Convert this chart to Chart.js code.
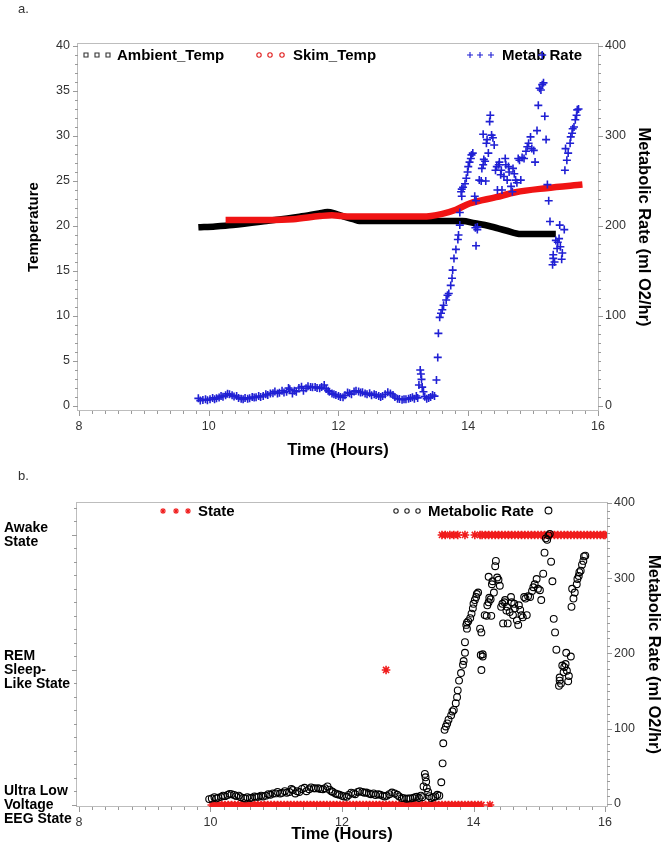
<!DOCTYPE html>
<html><head><meta charset="utf-8">
<script src="https://cdn.jsdelivr.net/npm/chart.js@4.4.1/dist/chart.umd.min.js"></script>
<style>
html,body{margin:0;padding:0;background:#fff;}
#wrap{position:relative;width:672px;height:862px;overflow:hidden;background:#fff;}
canvas{position:absolute;left:0;}
.lab{position:absolute;font:13px "Liberation Sans",Arial,sans-serif;color:#333;}
</style></head><body>
<div id="wrap">
<canvas id="ca" width="672" height="470" style="top:0;width:672px;height:470px"></canvas>
<canvas id="cb" width="672" height="392" style="top:470px;width:672px;height:392px"></canvas>
<div class="lab" style="left:18px;top:1px">a.</div>
<div class="lab" style="left:18px;top:468px">b.</div>
</div>
<script>
// ---------- DATA ----------
const metabTime = [
 9.84, 9.87, 9.91, 9.95, 9.98, 10.02, 10.06, 10.09, 10.12, 10.16,
 10.19, 10.22, 10.26, 10.29, 10.32, 10.36, 10.39, 10.43, 10.46, 10.5,
 10.53, 10.56, 10.6, 10.63, 10.67, 10.7, 10.73, 10.77, 10.8, 10.84,
 10.88, 10.91, 10.95, 10.99, 11.02, 11.06, 11.09, 11.13, 11.16, 11.2,
 11.23, 11.25, 11.29, 11.32, 11.35, 11.39, 11.43, 11.46, 11.5, 11.53,
 11.57, 11.6, 11.64, 11.67, 11.71, 11.74, 11.78, 11.81, 11.84, 11.86,
 11.9, 11.93, 11.96, 12.0, 12.03, 12.07, 12.1, 12.14, 12.17, 12.2,
 12.24, 12.27, 12.31, 12.34, 12.37, 12.41, 12.44, 12.48, 12.51, 12.55,
 12.58, 12.62, 12.65, 12.68, 12.72, 12.76, 12.8, 12.84, 12.87, 12.91,
 12.94, 12.98, 13.01, 13.04, 13.08, 13.11, 13.14, 13.17, 13.2, 13.22,
 13.24, 13.26, 13.27, 13.28, 13.29, 13.31, 13.33, 13.36, 13.39, 13.42,
 13.45, 13.48, 13.51, 13.53, 13.54, 13.56, 13.58, 13.6, 13.62, 13.66,
 13.68, 13.7, 13.73, 13.75, 13.76, 13.78, 13.81, 13.84, 13.85, 13.87,
 13.87, 13.89, 13.9, 13.9, 13.92, 13.95, 13.97, 13.99, 14.0, 14.02,
 14.04, 14.05, 14.07, 14.1, 14.12, 14.11, 14.12, 14.14, 14.14, 14.17,
 14.2, 14.21, 14.23, 14.23, 14.24, 14.26, 14.27, 14.28, 14.29, 14.31,
 14.33, 14.34, 14.36, 14.38, 14.4, 14.42, 14.44, 14.45, 14.47, 14.48,
 14.5, 14.51, 14.52, 14.55, 14.57, 14.58, 14.6, 14.62, 14.63, 14.66,
 14.68, 14.69, 14.71, 14.73, 14.75, 14.77, 14.79, 14.81, 14.83, 14.86,
 14.89, 14.91, 14.93, 14.96, 14.98, 15.01, 15.03, 15.06, 15.08, 15.1,
 15.12, 15.14, 15.14, 15.16, 15.18, 15.2, 15.22, 15.24, 15.26, 15.3,
 15.31, 15.31, 15.33, 15.35, 15.37, 15.38, 15.4, 15.41, 15.42, 15.44,
 15.45, 15.48, 15.49, 15.5, 15.52, 15.54, 15.57, 15.58, 15.6, 15.61,
 15.63, 15.65, 15.67, 15.68, 15.7
];
const metabRate = [
 8.5, 6, 6.7, 7.5, 6.5, 7.4, 9, 7.5, 8.5, 9.5,
 11, 10.4, 12, 13.5, 13, 12, 10.5, 11.1, 9, 8,
 7.4, 9, 8, 8.5, 10, 9.5, 9.6, 11, 10, 11.1,
 13, 12.2, 14, 14.1, 16, 14, 14.8, 17, 15, 15.9,
 20, 18.5, 14, 17, 15.9, 20, 21.5, 17, 19.6, 22,
 21, 20.7, 21, 20, 19.6, 21, 23.3, 19, 17, 15.9,
 14, 13, 12.2, 11, 10, 9.6, 12, 15, 14.1, 13,
 16, 17, 16, 15, 15.2, 14, 13, 14.1, 12, 13,
 12.2, 11, 10, 11.1, 13, 15.2, 14, 12.2, 10, 8,
 7.8, 7, 7.5, 7.4, 8, 9, 9.6, 8, 11.1, 9,
 23.3, 40, 35.5, 29.6, 21, 15.9, 10.4, 8, 9, 10,
 12.2, 11, 28.9, 54, 80.7, 98.5, 103, 107, 112, 117.8,
 123, 125, 134, 142, 151, 164, 174, 185, 190, 201,
 215, 238, 233, 241, 243, 247, 253, 260, 266, 271,
 275, 279, 281, 233, 228, 198, 178, 196, 199, 251,
 250, 264, 268, 302, 274, 272, 250, 292, 296, 281,
 316, 323, 301, 298, 290, 262, 266, 240, 268, 271,
 257, 262, 240, 255, 275, 268, 251, 266, 260, 244,
 238, 264, 258, 251, 248, 275, 273, 251, 276, 275,
 283, 288, 292, 299, 286, 284, 271, 306, 334, 353,
 351, 357, 390, 359, 322, 296, 246, 228, 205, 157,
 164, 168, 160, 184, 175, 182, 186, 201, 177, 163,
 170, 196, 262, 286, 273, 281, 292, 299, 303, 308,
 310, 318, 323, 329, 330
];
const ambientTime = [9.84, 10.1, 10.37, 10.89, 11.4, 11.7, 11.83, 11.96, 12.1, 12.25, 12.32, 13.91, 14.1, 14.32, 14.58, 14.81, 15.35];
const ambientTemp = [19.85, 19.95, 20.1, 20.55, 21.04, 21.4, 21.55, 21.35, 21.0, 20.7, 20.55, 20.55, 20.3, 20.0, 19.5, 19.1, 19.1];
const skimTime = [10.26, 10.89, 11.3, 11.71, 11.9, 12.05, 12.17, 13.3, 13.6, 13.81, 14.02, 14.43, 14.73, 15.2, 15.76];
const skimTemp = [20.67, 20.67, 20.75, 21.1, 21.2, 21.1, 21.04, 21.04, 21.35, 21.8, 22.5, 23.2, 23.75, 24.2, 24.6];

const stateNames = [['Ultra Low', 'Voltage', 'EEG State'], ['REM', 'Sleep-', 'Like State'], ['Awake', 'State']];
const ulvTimes = [
 10.02, 10.07, 10.12, 10.17, 10.22, 10.27, 10.32, 10.37, 10.42, 10.47,
 10.52, 10.57, 10.62, 10.67, 10.72, 10.77, 10.82, 10.87, 10.92, 10.97,
 11.02, 11.07, 11.12, 11.17, 11.22, 11.27, 11.32, 11.37, 11.42, 11.47,
 11.52, 11.57, 11.62, 11.67, 11.72, 11.77, 11.82, 11.87, 11.92, 11.97,
 12.02, 12.07, 12.12, 12.17, 12.22, 12.27, 12.32, 12.37, 12.42, 12.47,
 12.52, 12.57, 12.62, 12.67, 12.72, 12.77, 12.82, 12.87, 12.92, 12.97,
 13.02, 13.07, 13.12, 13.17, 13.22, 13.27, 13.32, 13.37, 13.42, 13.47,
 13.52, 13.57, 13.62, 13.67, 13.72, 13.77, 13.82, 13.87, 13.92, 13.97,
 14.02, 14.07, 14.12, 14.25
];
const remTimes = [12.67];
const awakeTimes = [
 13.52, 13.57, 13.64, 13.70, 13.76, 13.87, 14.02, 14.10,
 14.13, 14.18, 14.23, 14.28, 14.33, 14.38, 14.43, 14.48, 14.53, 14.58,
 14.63, 14.68, 14.73, 14.78, 14.83, 14.88, 14.93, 14.98, 15.03, 15.08,
 15.13, 15.18, 15.23, 15.28, 15.33, 15.38, 15.43, 15.48, 15.53, 15.58,
 15.63, 15.68, 15.73, 15.78, 15.83, 15.88, 15.93, 15.98, 16.0
];
const xTickLabels = ['8', '10', '12', '14', '16'];
const tempTickLabels = ['0', '5', '10', '15', '20', '25', '30', '35', '40'];
const rateTickLabels = ['0', '100', '200', '300', '400'];

// ---------- HELPERS ----------
const FONT = '"Liberation Sans", Arial, Helvetica, sans-serif';
Chart.defaults.font.family = FONT;
Chart.defaults.color = '#333';

function makeTicks(min, max, step, majorEvery) {
  const out = [];
  const n = Math.round((max - min) / step);
  for (let i = 0; i <= n; i++) out.push({ value: +(min + i * step).toFixed(4), major: i % majorEvery === 0 });
  return out;
}
function majorLabel(labels) {
  return function (v, i, t) {
    if (!t[i] || !t[i].major) return '';
    const k = t.slice(0, i + 1).filter(q => q.major).length - 1;
    return labels[k];
  };
}
function pts(xs, ys) { return xs.map((x, i) => ({ x: x, y: ys[i] })); }
function flat(xs, y) { return xs.map(x => ({ x: x, y: y })); }

function sym(ctx, type, x, y, r, color) {
  ctx.save(); ctx.strokeStyle = color; ctx.lineWidth = 1.1; ctx.beginPath();
  if (type === 'square') ctx.rect(x - r, y - r, 2 * r, 2 * r);
  else if (type === 'circle') ctx.arc(x, y, r, 0, Math.PI * 2);
  else if (type === 'plus') { ctx.moveTo(x - r, y); ctx.lineTo(x + r, y); ctx.moveTo(x, y - r); ctx.lineTo(x, y + r); }
  else if (type === 'star') { for (let k = 0; k < 4; k++) { const a = k * Math.PI / 4; ctx.moveTo(x - r * Math.cos(a), y - r * Math.sin(a)); ctx.lineTo(x + r * Math.cos(a), y + r * Math.sin(a)); } }
  ctx.stroke(); ctx.restore();
}

const framePlugin = {
  id: 'frameTicks',
  beforeDatasetsDraw(chart) {
    const ctx = chart.ctx, a = chart.chartArea;
    ctx.save();
    ctx.strokeStyle = '#bdbdbd'; ctx.lineWidth = 1;
    ctx.strokeRect(Math.round(a.left) - 0.5, Math.round(a.top) + 0.5, Math.round(a.right - a.left) + 1, Math.round(a.bottom - a.top) - 1);
    ctx.strokeStyle = '#9a9a9a';
    Object.values(chart.scales).forEach(s => {
      s.ticks.forEach(t => {
        const len = t.major ? 5 : 3;
        const p = Math.round(s.getPixelForValue(t.value)) + 0.5;
        ctx.beginPath();
        if (s.position === 'bottom') { ctx.moveTo(p, a.bottom); ctx.lineTo(p, a.bottom + len); }
        else if (s.position === 'left') { ctx.moveTo(a.left, p); ctx.lineTo(a.left - len, p); }
        else { ctx.moveTo(a.right, p); ctx.lineTo(a.right + len, p); }
        ctx.stroke();
      });
    });
    ctx.restore();
  }
};
const legendPlugin = {
  id: 'inlineLegend',
  beforeDatasetsDraw(chart, args, opts) {
    const ctx = chart.ctx;
    (opts.items || []).forEach(it => {
      it.marks.forEach(mx => sym(ctx, it.type, mx, it.y, it.r, it.color));
      ctx.save();
      ctx.fillStyle = '#000'; ctx.font = 'bold 15px ' + FONT;
      ctx.textBaseline = 'middle'; ctx.textAlign = 'left';
      ctx.fillText(it.text, it.tx, it.y + 1);
      ctx.restore();
    });
  }
};

function baseAxis(extra) {
  return Object.assign({
    type: 'linear',
    grid: { display: false, drawTicks: true, tickLength: 5 },
    border: { display: false },
  }, extra);
}

// ---------- CHART A ----------
new Chart(document.getElementById('ca'), {
  type: 'scatter',
  data: {
    datasets: [
      { label: 'Metab Rate', data: pts(metabTime, metabRate), yAxisID: 'y2',
        pointStyle: 'cross', pointRadius: 4, borderWidth: 1.6, borderColor: '#2020d4', backgroundColor: '#2020d4' },
      { label: 'Skim_Temp', data: pts(skimTime, skimTemp), yAxisID: 'y', showLine: true,
        pointRadius: 0, borderWidth: 6.5, borderColor: '#f01414', cubicInterpolationMode: 'monotone' },
      { label: 'Ambient_Temp', data: pts(ambientTime, ambientTemp), yAxisID: 'y', showLine: true,
        pointRadius: 0, borderWidth: 6.5, borderColor: '#000', cubicInterpolationMode: 'monotone' }
    ]
  },
  options: {
    responsive: false, devicePixelRatio: 1, animation: false, events: [],
    layout: { padding: { top: 43, left: 0, right: 0, bottom: 0 } },
    plugins: {
      legend: { display: false }, tooltip: { enabled: false },
      inlineLegend: { items: [
        { type: 'square', marks: [86, 97, 108], r: 2, color: '#333', text: 'Ambient_Temp', tx: 117, y: 55 },
        { type: 'circle', marks: [259, 270, 282], r: 2.2, color: '#e02020', text: 'Skim_Temp', tx: 293, y: 55 },
        { type: 'plus', marks: [470, 480, 491], r: 3, color: '#2020d4', text: 'Metab Rate', tx: 502, y: 55 }
      ] }
    },
    scales: {
      x: baseAxis({ position: 'bottom', min: 7.985, max: 16.0,
        afterFit: s => { s.height = 59; },
        afterBuildTicks: s => { s.ticks = makeTicks(8, 16, 0.2, 10); },
        ticks: { autoSkip: false, maxRotation: 0, minRotation: 0, padding: 3, color: '#333', font: { size: 12.5 }, callback: majorLabel(xTickLabels) },
        title: { display: true, text: 'Time (Hours)', color: '#000', font: { size: 16.5, weight: 'bold' }, padding: { top: 0, bottom: 10 } } }),
      y: baseAxis({ position: 'left', min: -0.556, max: 40.33,
        afterFit: s => { s.width = 78; },
        afterBuildTicks: s => { s.ticks = makeTicks(0, 40, 1, 5); },
        ticks: { autoSkip: false, padding: 3, color: '#333', font: { size: 12.5 }, callback: majorLabel(tempTickLabels) },
        title: { display: true, text: 'Temperature', color: '#000', font: { size: 15, weight: 'bold' }, padding: { top: 25, bottom: 0 } } }),
      y2: baseAxis({ position: 'right', min: -5.56, max: 403.3,
        afterFit: s => { s.width = 74; },
        afterBuildTicks: s => { s.ticks = makeTicks(0, 400, 10, 10); },
        ticks: { autoSkip: false, padding: 2, color: '#333', font: { size: 12.5 }, callback: majorLabel(rateTickLabels) },
        title: { display: true, text: 'Metabolic Rate (ml O2/hr)', color: '#000', font: { size: 16.5, weight: 'bold' }, padding: { top: 19, bottom: 0 } } })
    }
  },
  plugins: [framePlugin, legendPlugin]
});

// ---------- CHART B ----------
const bTime = metabTime.filter(t => t >= 9.97);
const bRate = metabRate.filter((r, i) => metabTime[i] >= 9.97);
new Chart(document.getElementById('cb'), {
  type: 'scatter',
  data: {
    datasets: [
      { label: 'Metabolic Rate', data: pts(bTime, bRate), yAxisID: 'y2',
        pointStyle: 'circle', pointRadius: 3.4, borderWidth: 1.1, borderColor: '#000', backgroundColor: 'rgba(0,0,0,0)' },
      { label: 'State', data: flat(ulvTimes, 0).concat(flat(remTimes, 1), flat(awakeTimes, 2)), yAxisID: 'y',
        pointStyle: 'star', pointRadius: 4.3, borderWidth: 1.6, borderColor: '#f01c1c', backgroundColor: '#f01c1c' }
    ]
  },
  options: {
    responsive: false, devicePixelRatio: 1, animation: false, events: [],
    layout: { padding: { top: 32, left: 4, right: 0, bottom: 0 } },
    plugins: {
      legend: { display: false }, tooltip: { enabled: false },
      inlineLegend: { items: [
        { type: 'star', marks: [163, 176, 188], r: 3, color: '#f01c1c', text: 'State', tx: 198, y: 41 },
        { type: 'circle', marks: [396, 407, 418], r: 2.2, color: '#222', text: 'Metabolic Rate', tx: 428, y: 41 }
      ] }
    },
    scales: {
      x: baseAxis({ position: 'bottom', min: 7.97, max: 16.03,
        afterFit: s => { s.height = 55; },
        afterBuildTicks: s => { s.ticks = makeTicks(8, 16, 0.2, 10); },
        ticks: { autoSkip: false, maxRotation: 0, minRotation: 0, padding: 3, color: '#333', font: { size: 12.5 }, callback: majorLabel(xTickLabels) },
        title: { display: true, text: 'Time (Hours)', color: '#000', font: { size: 16.5, weight: 'bold' }, padding: { top: 0, bottom: 18 } } }),
      y: baseAxis({ position: 'left', min: -0.015, max: 2.244,
        afterFit: s => { s.width = 73; },
        afterBuildTicks: s => { s.ticks = makeTicks(0, 2.2, 0.1, 10); },
        ticks: { autoSkip: false, padding: 3, crossAlign: 'far', color: '#000', font: { size: 14, weight: 'bold', lineHeight: 1.0 },
          callback: (v, i, t) => (t[i] && t[i].major) ? stateNames[Math.round(v)] : '' } }),
      y2: baseAxis({ position: 'right', min: -4, max: 401.3,
        afterFit: s => { s.width = 65; },
        afterBuildTicks: s => { s.ticks = makeTicks(0, 400, 10, 10); },
        ticks: { autoSkip: false, padding: 2, color: '#333', font: { size: 12.5 }, callback: majorLabel(rateTickLabels) },
        title: { display: true, text: 'Metabolic Rate (ml O2/hr)', color: '#000', font: { size: 16.5, weight: 'bold' }, padding: { top: 9, bottom: 0 } } })
    }
  },
  plugins: [framePlugin, legendPlugin]
});
</script>
</body></html>
